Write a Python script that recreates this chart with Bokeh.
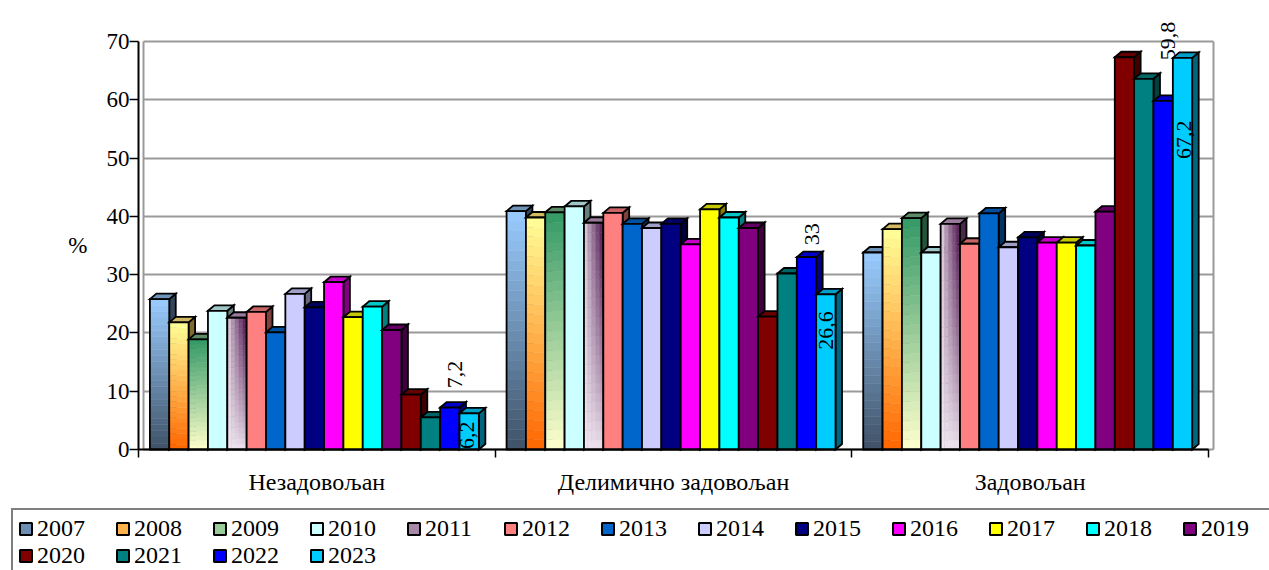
import math
from bokeh.plotting import figure
from bokeh.models import (ColumnDataSource, FixedTicker, Legend, LegendItem, LabelSet,
                          Range1d, Grid)
from bokeh.embed import file_html
from bokeh.resources import INLINE
from bokeh.core.properties import value

# ---------------- data ----------------
categories = ["Незадовољан", "Делимично задовољан", "Задовољан"]
years = ["2007", "2008", "2009", "2010", "2011", "2012", "2013", "2014", "2015",
         "2016", "2017", "2018", "2019", "2020", "2021", "2022", "2023"]

y2007 = [25.8, 40.9, 33.8]
y2008 = [21.8, 39.8, 37.8]
y2009 = [18.9, 40.7, 39.7]
y2010 = [23.8, 41.7, 33.8]
y2011 = [22.6, 38.9, 38.7]
y2012 = [23.6, 40.6, 35.3]
y2013 = [20.1, 38.7, 40.5]
y2014 = [26.7, 38.0, 34.7]
y2015 = [24.4, 38.7, 36.4]
y2016 = [28.7, 35.2, 35.5]
y2017 = [22.7, 41.2, 35.5]
y2018 = [24.5, 39.8, 35.0]
y2019 = [20.5, 38.0, 40.8]
y2020 = [9.4, 22.8, 67.3]
y2021 = [5.5, 30.2, 63.6]
y2022 = [7.2, 33.0, 59.8]
y2023 = [6.2, 26.6, 67.2]
series = [y2007, y2008, y2009, y2010, y2011, y2012, y2013, y2014, y2015,
          y2016, y2017, y2018, y2019, y2020, y2021, y2022, y2023]

y_ticks = [0, 10, 20, 30, 40, 50, 60, 70]
labelled_years = ["2022", "2023"]

# ---------------- style ----------------
colors = ["#99ccff", "#ffff99", "#339966", "#ccffff", "#a888a8", "#ff8080", "#0066cc",
          "#ccccff", "#000080", "#ff00ff", "#ffff00", "#00ffff", "#800080", "#800000",
          "#008080", "#0000ff", "#00ccff"]
# gradient fills: (bottom colour, top colour, mode)
gradients = {0: ("#3f5166", "#99ccff", "v"),
             1: ("#ff6600", "#ffff99", "v"),
             2: ("#ffffcc", "#339966", "v"),
             4: ("#f0e6f0", "#5e2a5e", "d")}
face_override = {0: ("#6f92b8", "#34475a"),
                 1: ("#d2b860", "#806a30"),
                 2: ("#5f8a66", "#24553a"),
                 4: ("#9a7a9a", "#4a2a4a")}
label_dx = [[5, 6, 5], [-2, 0, 1]]
label_dy = [[33, 23, 60], [-22, -36, -82]]

FONT = "Liberation Serif"
W, H = 1269, 570
# pixel geometry of the plot area inside the canvas
X0_PX, X1_PX = 138, 1213        # front y-axis .. back-wall right edge
Y0_PX, Y70_PX = 449, 41         # value 0 and value 70
x_wall = 3.014
px_x = (X1_PX - X0_PX) / x_wall
px_y = (Y0_PX - Y70_PX) / 70.0
x_start = -X0_PX / px_x
x_end = x_wall + (W - X1_PX) / px_x
y_start = -(H - Y0_PX) / px_y
y_end = 70 + Y70_PX / px_y

pitch = 19.35 / px_x
left_pad = 11.4 / px_x
dx = 6.5 / px_x
dy = 5.5 / px_y


def hex2rgb(h):
    h = h.lstrip("#")
    return tuple(int(h[i:i + 2], 16) for i in (0, 2, 4))


def rgb2hex(c):
    return "#%02x%02x%02x" % tuple(max(0, min(255, int(round(v)))) for v in c)


def shade(h, f):
    r = hex2rgb(h)
    return rgb2hex([v * f for v in r])


def lerp(a, b, t):
    ra, rb = hex2rgb(a), hex2rgb(b)
    return rgb2hex([ra[k] + (rb[k] - ra[k]) * t for k in range(3)])


p = figure(width=W, height=H, output_backend="svg", toolbar_location=None,
           x_range=Range1d(x_start, x_end), y_range=Range1d(y_start, y_end),
           min_border_left=0, min_border_right=0, min_border_top=0, min_border_bottom=0)
p.outline_line_color = None
p.background_fill_color = "white"
p.xgrid.visible = False
p.ygrid.visible = False

# back-wall grid
gy = Grid(dimension=1, ticker=FixedTicker(ticks=y_ticks), grid_line_color="#9a9a9a",
          grid_line_width=2, bounds=(0, 70), cross_bounds=(0.014, x_wall))
gx = Grid(dimension=0, ticker=FixedTicker(ticks=[0.014, x_wall]), grid_line_color="#9a9a9a",
          grid_line_width=2, cross_bounds=(0, 70))
p.add_layout(gy, "center")
p.add_layout(gx, "center")

legend_items = []
centers_by_year = {}
for j, (yr, vals) in enumerate(zip(years, series)):
    off = left_pad + (j + 0.5) * pitch
    cx = [i + off for i in range(len(categories))]
    centers_by_year[yr] = cx
    base = colors[j]
    if j in face_override:
        top_c, side_c = face_override[j]
    else:
        top_c, side_c = shade(base, 0.78), shade(base, 0.5)
    side_xs, side_ys, top_xs, top_ys = [], [], [], []
    for c, v in zip(cx, vals):
        x0, x1 = c - pitch / 2, c + pitch / 2
        side_xs.append([x1, x1 + dx, x1 + dx, x1])
        side_ys.append([0, dy, v + dy, v])
        top_xs.append([x0, x0 + dx, x1 + dx, x1])
        top_ys.append([v, v + dy, v + dy, v])
    p.patches(side_xs, side_ys, fill_color=side_c, line_color="black", line_width=1.8,
              line_join="miter")
    p.patches(top_xs, top_ys, fill_color=top_c, line_color="black", line_width=1.8,
              line_join="miter")
    if j in gradients:
        bot, topcol, mode = gradients[j]
        L, R, B, T, C = [], [], [], [], []
        nv, nh = 24, (5 if mode == "d" else 1)
        for c, v in zip(cx, vals):
            x0 = c - pitch / 2
            for a in range(nh):
                for b in range(nv):
                    u = (a + 0.5) / nh
                    t = (b + 0.5) / nv
                    if mode == "d":
                        tt = min(1.0, (u * t) ** 0.8 * 1.15)
                    else:
                        tt = t
                    L.append(x0 + pitch * a / nh)
                    R.append(x0 + pitch * (a + 1) / nh)
                    B.append(v * b / nv)
                    T.append(v * (b + 1) / nv)
                    C.append(lerp(bot, topcol, tt))
        src = ColumnDataSource(dict(left=L, right=R, bottom=B, top=T, color=C))
        p.quad(left="left", right="right", bottom="bottom", top="top", fill_color="color",
               line_color="color", line_width=0.5, source=src)
        p.vbar(x=cx, top=vals, width=pitch, fill_alpha=0, line_color="black",
               line_width=1.8, line_join="miter")
        leg_color = lerp(bot, topcol, 0.5)
    else:
        p.vbar(x=cx, top=vals, width=pitch, fill_color=base, line_color="black",
               line_width=1.8, line_join="miter")
        leg_color = base
    # legend-only swatch renderer, placed below the canvas (hidden under the legend)
    dummy = p.vbar(x=[0.5], bottom=[y_start - 6], top=[y_start - 5], width=0.01,
                   fill_color=leg_color, line_color="black", line_width=2)
    legend_items.append(LegendItem(label=yr, renderers=[dummy]))

# data labels for 2022 and 2023
lx, ly, lt, lox, loy = [], [], [], [], []
for k, yr in enumerate(labelled_years):
    j = years.index(yr)
    for i, v in enumerate(series[j]):
        lx.append(centers_by_year[yr][i])
        ly.append(v)
        s = ("%g" % v).replace(".", ",")
        lt.append(s)
        lox.append(label_dx[k][i])
        loy.append(label_dy[k][i])
lsrc = ColumnDataSource(dict(x=lx, y=ly, text=lt, xo=lox, yo=loy))
p.add_layout(LabelSet(x="x", y="y", text="text", x_offset="xo", y_offset="yo",
                      angle=math.pi / 2, text_align="center", text_baseline="middle",
                      text_font=value(FONT), text_font_size="22px", text_color="black",
                      source=lsrc))

# axes (drawn at value 0 inside the canvas)
yax = p.yaxis[0]
yax.fixed_location = 0
yax.ticker = FixedTicker(ticks=y_ticks)
yax.bounds = (0, 70)
yax.axis_line_color = "black"
yax.axis_line_width = 2
yax.major_tick_out = 9
yax.major_tick_in = 0
yax.major_tick_line_width = 1.5
yax.minor_tick_line_color = None
yax.major_label_text_font = FONT
yax.major_label_text_font_size = "23px"
yax.major_label_text_color = "black"
yax.major_label_standoff = 0
yax.axis_label = "%"
yax.axis_label_orientation = "horizontal"
yax.axis_label_text_font = FONT
yax.axis_label_text_font_size = "23px"
yax.axis_label_text_font_style = "normal"
yax.axis_label_text_color = "black"
yax.axis_label_standoff = 16

xax = p.xaxis[0]
xax.fixed_location = 0
xax.ticker = FixedTicker(ticks=[i + 0.5 for i in range(len(categories))],
                         minor_ticks=list(range(len(categories) + 1)))
xax.major_label_overrides = {i + 0.5: c for i, c in enumerate(categories)}
xax.bounds = (0, len(categories))
xax.axis_line_color = "black"
xax.axis_line_width = 2
xax.major_tick_line_color = None
xax.major_tick_out = 0
xax.major_tick_in = 0
xax.minor_tick_out = 8
xax.minor_tick_in = 0
xax.minor_tick_line_color = "black"
xax.minor_tick_line_width = 1.5
xax.major_label_text_font = FONT
xax.major_label_text_font_size = "24px"
xax.major_label_text_color = "black"
xax.major_label_standoff = 11

legend = Legend(items=legend_items, location=(11, -6), orientation="horizontal",
                ncols=13, label_text_font=FONT, label_text_font_size="24px",
                label_text_color="black", label_text_line_height=1.0,
                glyph_width=15, glyph_height=15, label_standoff=4, label_width=78,
                spacing=0, padding=5, border_line_color="black", border_line_width=2,
                background_fill_color="white", background_fill_alpha=1, margin=0)
p.add_layout(legend)

open("out.html", "w").write(file_html(p, INLINE))
